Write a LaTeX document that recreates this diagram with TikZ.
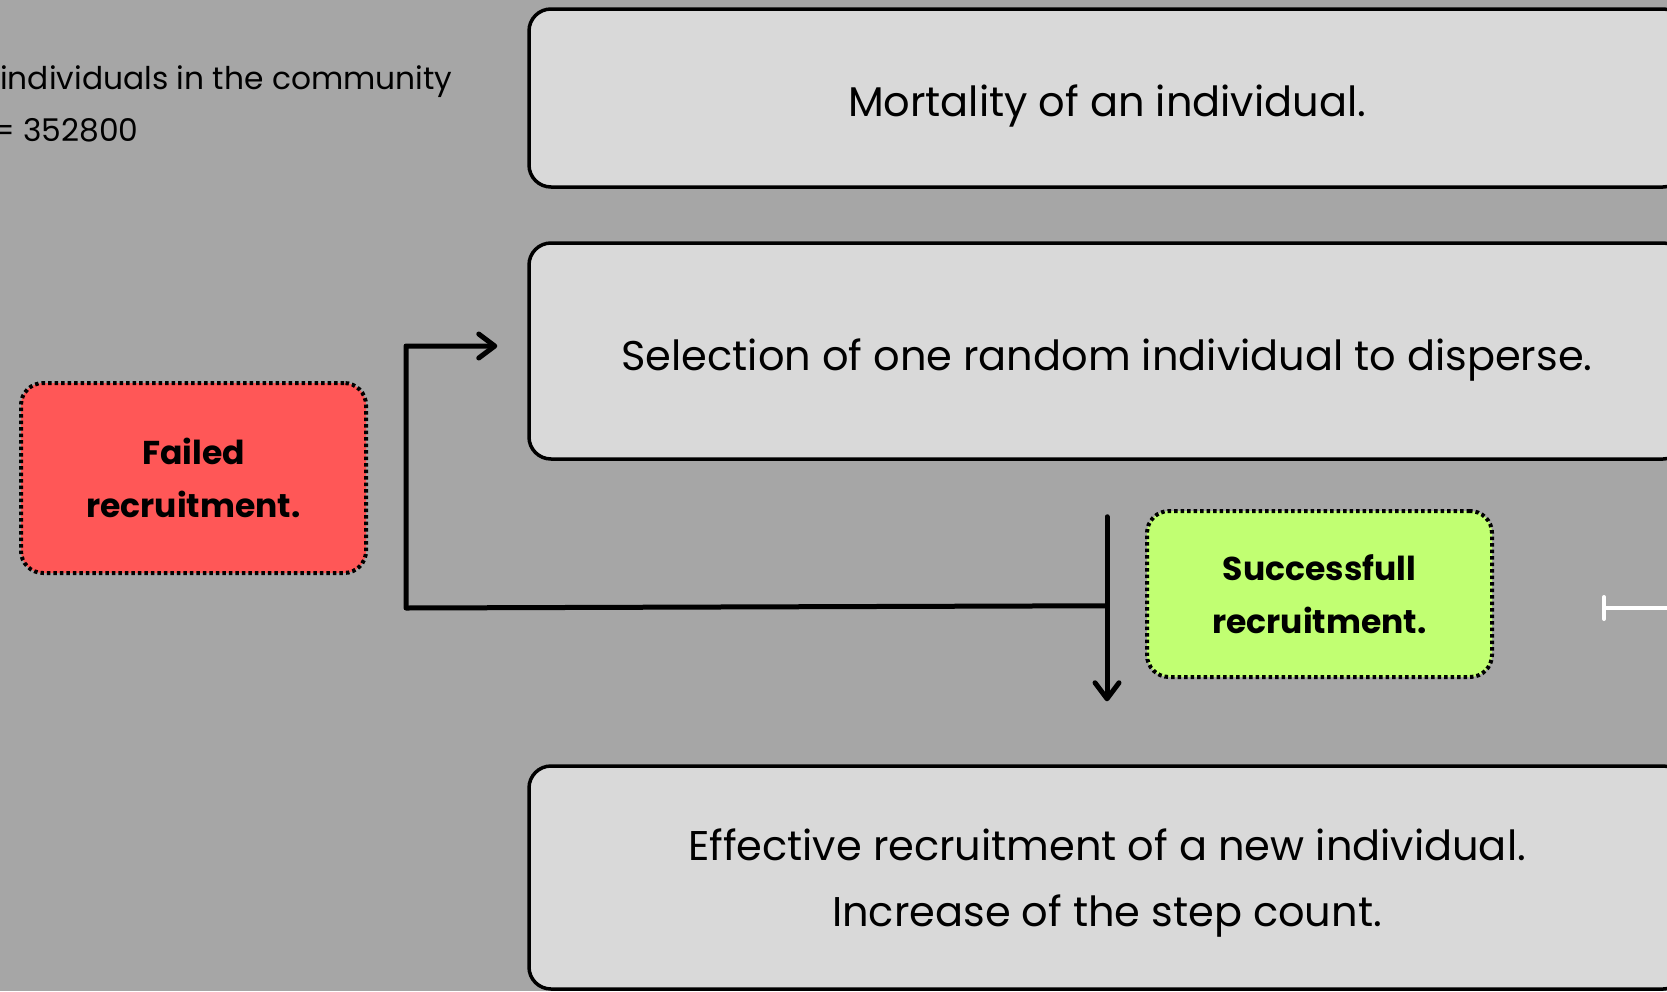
\documentclass[tikz,border=0pt]{standalone}
\usepackage{fontspec}
\setmainfont{Poppins}
\usetikzlibrary{arrows.meta}
\definecolor{canvasgray}{HTML}{A6A6A6}
\definecolor{boxgray}{HTML}{D9D9D9}
\definecolor{failred}{HTML}{FF5757}
\definecolor{okgreen}{HTML}{C1FF72}

\begin{document}
\begin{tikzpicture}[x=1pt,y=-1pt,
  stepbox/.style={draw=black,line width=3.5pt,fill=boxgray,rounded corners=22pt,
    minimum width=1156pt,align=center,font=\fontsize{41.5}{66}\selectfont},
  outcome/.style={draw=black,line width=4pt,dash pattern=on 3.5pt off 3pt,
    rounded corners=22pt,minimum width=345pt,align=center,
    font=\fontsize{33}{53}\selectfont\bfseries},
  flow/.style={line width=5pt,line cap=round,line join=round},
  barb/.style={-{Straight Barb[length=16pt,width=24pt,round]}}]
  \useasboundingbox (0,0) rectangle (1667,991);
  \fill[canvasgray] (0,0) rectangle (1667,991);

  \node[anchor=base west,inner sep=0pt,font=\fontsize{31.3}{40}\selectfont] (popcount) at (0,89) {individuals in the community};
  \node[anchor=base west,inner sep=0pt,font=\fontsize{31.3}{40}\selectfont] (popsize) at (-8,141) {= 352800};

  \node[stepbox,minimum height=178pt,text height=44pt,text depth=8pt] (death) at (1107,98) {Mortality of an individual.};
  \node[stepbox,minimum height=216pt,text height=46pt,text depth=8pt] (pick) at (1107,351) {Selection of one random individual to disperse.};
  \node[stepbox,minimum height=223pt,text depth=-12pt] (recruit) at (1107,877.5)
    {Effective recruitment of a new individual.\\Increase of the step count.};

  \node[outcome,fill=failred,minimum height=190pt] (fail) at (193.5,478) {Failed\\recruitment.};
  \node[outcome,fill=okgreen,minimum height=166pt] (success) at (1319.5,594) {Successfull\\recruitment.};

  \coordinate (drop) at ([yshift=-56pt]pick.south);
  \coordinate (land) at ([yshift=63pt]recruit.north);
  \coordinate (branch) at ([yshift=-145pt]pick.south);
  \coordinate (corner) at (406,608);
  \coordinate (back) at ([xshift=-30pt,yshift=5pt]pick.west);
  \draw[flow,barb] (drop) -- (land);
  \draw[flow,barb] (branch) -- (corner) |- (back);

  \coordinate (stub) at (1602,608);
  \coordinate (offedge) at (1690,608);
  \draw[white,line width=4pt,-{Bar[width=22pt,round]}] (offedge) -- (stub);
\end{tikzpicture}
\end{document}
